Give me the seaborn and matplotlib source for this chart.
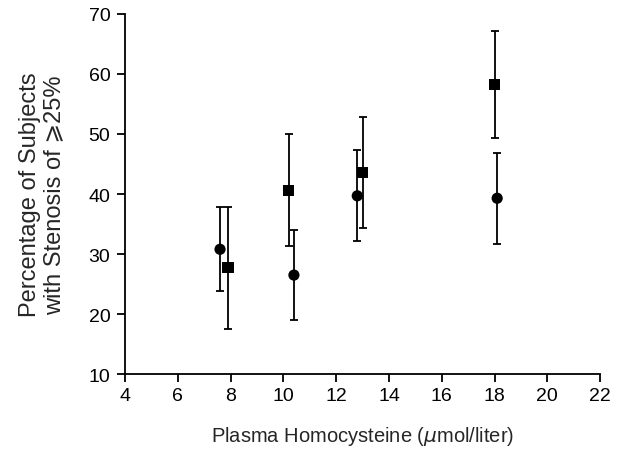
import numpy as np
import pandas as pd
import seaborn as sns
import matplotlib
matplotlib.use("Agg")
import matplotlib.pyplot as plt

# values
circle_x = [7.6, 10.4, 12.8, 18.1]
circle_y = [30.8, 26.5, 39.7, 39.3]
circle_lo = [23.9, 19.0, 32.1, 31.6]
circle_hi = [37.9, 34.0, 47.3, 46.9]

square_x = [7.9, 10.2, 13.0, 18.0]
square_y = [27.7, 40.6, 43.6, 58.2]
square_lo = [17.5, 31.3, 34.4, 49.4]
square_hi = [37.9, 50.0, 52.8, 67.1]

x_ticks = list(range(4, 23, 2))
y_ticks = list(range(10, 71, 10))

df = pd.DataFrame({
    "x": circle_x + square_x,
    "y": circle_y + square_y,
    "lo": circle_lo + square_lo,
    "hi": circle_hi + square_hi,
    "group": ["circle"] * 4 + ["square"] * 4,
})

sns.set_style("ticks")
plt.rcParams['font.family'] = ['Liberation Sans', 'DejaVu Sans']
plt.rcParams['mathtext.fontset'] = 'dejavusans'

fig = plt.figure(figsize=(6.33, 4.52), dpi=100)
ax = fig.add_axes([0.1975, 0.17, 0.7505, 0.797])

for g in ["circle", "square"]:
    d = df[df.group == g]
    ax.errorbar(d.x, d.y, yerr=[d.y - d.lo, d.hi - d.y], fmt="none",
                ecolor="black", elinewidth=1.3, capsize=3, capthick=1.3, zorder=2)

sns.scatterplot(data=df, x="x", y="y", style="group",
                markers={"circle": "o", "square": "s"},
                color="black", s=65, edgecolor="black", linewidth=0,
                legend=False, ax=ax, zorder=3)

ax.set_xlim(4, 22)
ax.set_ylim(10, 70)
ax.set_xticks(x_ticks)
ax.set_yticks(y_ticks)
ax.tick_params(axis="x", direction="out", length=5.5, width=1.3, labelsize=14, pad=4, colors="black")
ax.tick_params(axis="y", direction="out", length=5.5, width=1.3, labelsize=14, pad=5, colors="black")
for s in ["left", "bottom"]:
    ax.spines[s].set_linewidth(1.3)
    ax.spines[s].set_color("black")
sns.despine(ax=ax)

ax.set_xlabel(r"Plasma Homocysteine ($\mu$mol/liter)", fontsize=14.5, labelpad=14)
ax.set_ylabel("Percentage of Subjects\nwith Stenosis of \u2a7e25%", fontsize=17, labelpad=17,
              linespacing=1.1)

fig.savefig("out.png", dpi=100)
